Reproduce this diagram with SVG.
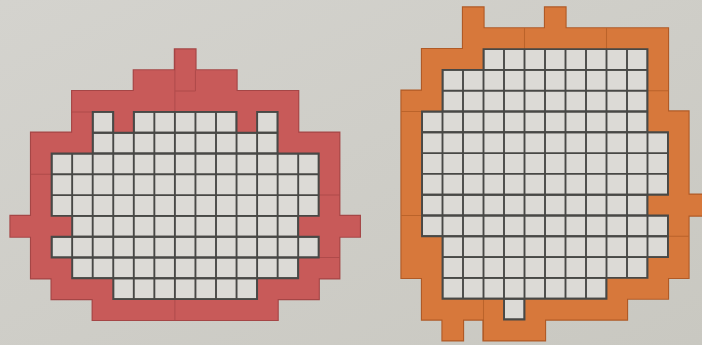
<svg xmlns="http://www.w3.org/2000/svg" width="702" height="345" viewBox="0 0 702 345">
<style>
.bg{fill:#d0cfc9}
.cell{fill:#dcdad6}
.cellEdge{fill:none;stroke:#484846;stroke-width:0.092}
.grid{fill:none;stroke:#484846;stroke-width:0.092}
.redEdge{fill:#a54646;stroke:#a54646;stroke-width:0.11}
.redFill{fill:#c85a59;stroke:none}
.orgEdge{fill:#b05a26;stroke:#b05a26;stroke-width:0.11}
.orgFill{fill:#d7783b;stroke:none}
.seamR{fill:none;stroke:#9a3e3e;stroke-width:0.05;opacity:.55}
.seamO{fill:none;stroke:#a4521d;stroke-width:0.05;opacity:.55}
</style>
<defs>
<linearGradient id="paper" x1="0" y1="0" x2="1" y2="1">
<stop offset="0" stop-color="#d4d3ce"/>
<stop offset="1" stop-color="#c9c8c1"/>
</linearGradient>
<path id="redCells" d="M8 0h1v1h-1z M6 1h5v1h-5z M3 2h11v1h-11z M3 3h1v1h-1z M5 3h1v1h-1z M11 3h1v1h-1z M13 3h1v1h-1z M1 4h3v1h-3z M13 4h3v1h-3z M1 5h1v3h-1z M15 5h1v3h-1z M0 8h3v1h-3z M14 8h3v1h-3z M1 9h1v1h-1z M15 9h1v1h-1z M1 10h2v1h-2z M14 10h2v1h-2z M2 11h3v1h-3z M12 11h3v1h-3z M4 12h9v1h-9z"/>
<path id="whiteL" d="M4 3h1v1h-1z M6 3h5v1h-5z M12 3h1v1h-1z M4 4h9v1h-9z M2 5h13v3h-13z M3 8h11v1h-11z M2 9h13v1h-13z M3 10h11v1h-11z M5 11h7v1h-7z"/>
<path id="orgCells" d="M3 0h1v1h-1z M7 0h1v1h-1z M3 1h10v1h-10z M1 2h3v1h-3z M12 2h1v1h-1z M1 3h1v1h-1z M12 3h1v1h-1z M0 4h2v1h-2z M12 4h1v1h-1z M0 5h1v1h-1z M12 5h2v1h-2z M0 6h1v3h-1z M13 6h1v3h-1z M0 9h1v1h-1z M12 9h3v1h-3z M0 10h1v1h-1z M13 10h1v1h-1z M0 11h2v1h-2z M13 11h1v1h-1z M0 12h2v1h-2z M12 12h2v1h-2z M1 13h1v1h-1z M10 13h3v1h-3z M1 14h4v1h-4z M6 14h5v1h-5z M2 15h1v1h-1z M4 15h3v1h-3z"/>
<path id="whiteR" d="M4 2h8v1h-8z M2 3h10v2h-10z M1 5h11v1h-11z M1 6h12v3h-12z M1 9h11v1h-11z M1 10h12v1h-12z M2 11h11v1h-11z M2 12h10v1h-10z M2 13h8v1h-8z M5 14h1v1h-1z"/>
<clipPath id="clipL"><use href="#whiteL"/></clipPath>
<clipPath id="clipR"><use href="#whiteR"/></clipPath>
</defs>
<rect x="0" y="0" width="702" height="345" fill="url(#paper)"/>

<g id="left-shape" transform="translate(10.5 49.5) scale(20.55 20.8)">
<use href="#redCells" class="redEdge"/>
<use href="#redCells" class="redFill"/>
<path class="seamR" d="M8 0V3M9 1V2M8 2H9M3 3H4M1 6H2M8 12V13M15 7H16M14 10H16"/>
<use href="#whiteL" class="cell"/>
<g clip-path="url(#clipL)">
<path class="grid" d="M2 0V13M3 0V13M4 0V13M5 0V13M6 0V13M7 0V13M8 0V13M9 0V13M10 0V13M11 0V13M12 0V13M13 0V13M14 0V13M15 0V13M0 3H17M0 4H17M0 5H17M0 6H17M0 7H17M0 8H17M0 9H17M0 10H17M0 11H17M0 12H17"/>
</g>
<use href="#whiteL" class="cellEdge"/>
</g>

<g id="right-shape" transform="translate(401.5 7.5) scale(20.5 20.8)">
<use href="#orgCells" class="orgEdge"/>
<use href="#orgCells" class="orgFill"/>
<path class="seamO" d="M6 1V2M10 1V2M12 4H13M0 5H1M0 10H1M13 11H14M4 14V16"/>
<use href="#whiteR" class="cell"/>
<g clip-path="url(#clipR)">
<path class="grid" d="M1 0V16M2 0V16M3 0V16M4 0V16M5 0V16M6 0V16M7 0V16M8 0V16M9 0V16M10 0V16M11 0V16M12 0V16M13 0V16M0 2H15M0 3H15M0 4H15M0 5H15M0 6H15M0 7H15M0 8H15M0 9H15M0 10H15M0 11H15M0 12H15M0 13H15M0 14H15M0 15H15"/>
</g>
<use href="#whiteR" class="cellEdge"/>
</g>
</svg>
